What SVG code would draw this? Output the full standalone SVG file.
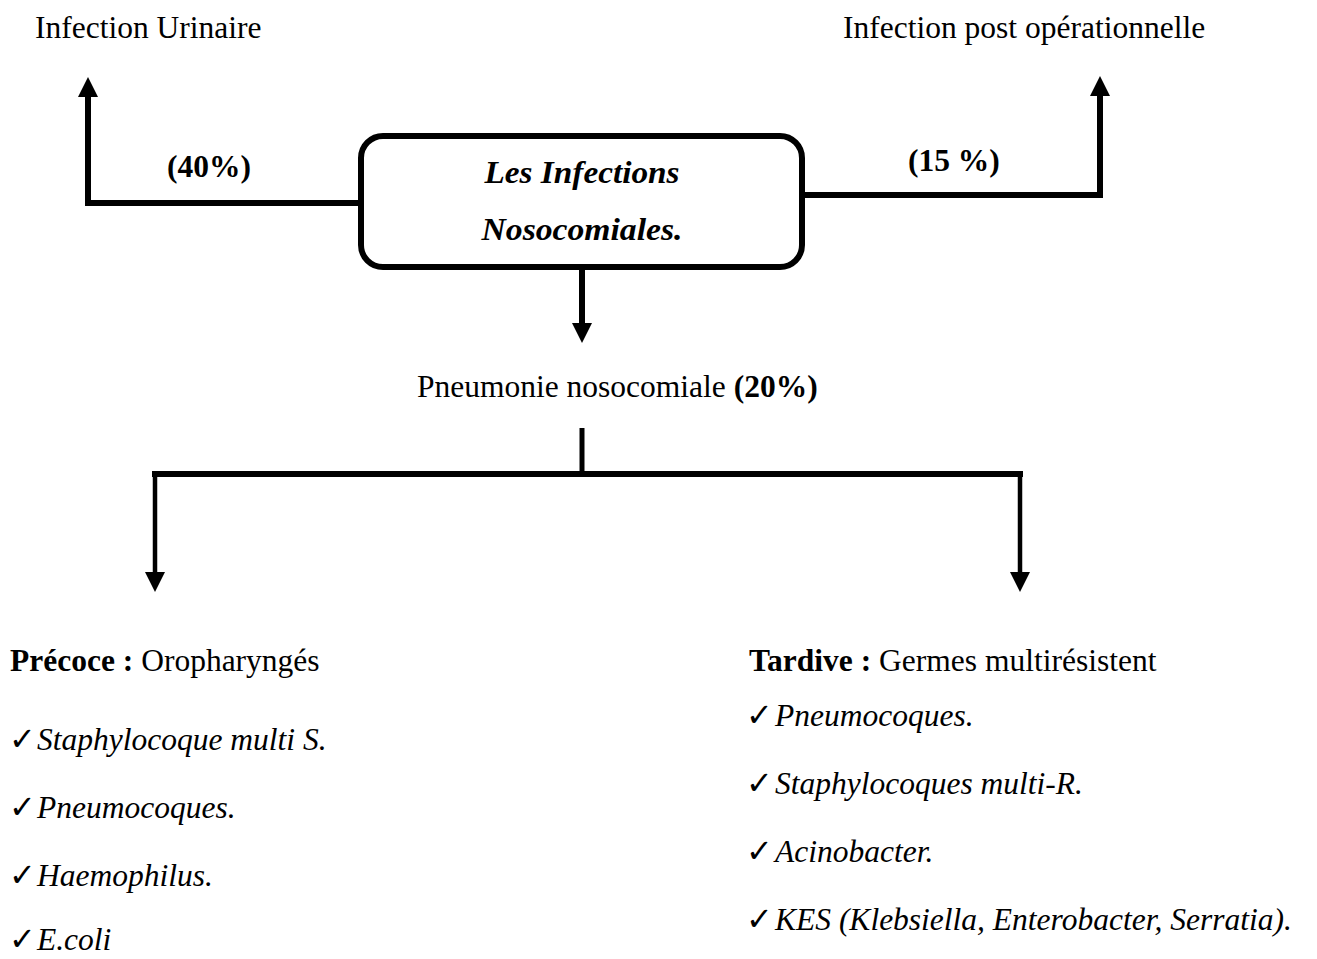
<svg xmlns="http://www.w3.org/2000/svg" width="1317" height="959" viewBox="0 0 1317 959">
<style>
.t{font-family:"Liberation Serif","Times New Roman",serif;font-size:31.5px;fill:#000}
.b{font-weight:bold}
.i{font-style:italic}
.box{font-family:"Liberation Serif","Times New Roman",serif;font-size:31px;font-weight:bold;font-style:italic;fill:#000}
.ck{font-family:"DejaVu Sans",sans-serif;font-size:32px;font-weight:bold;fill:#000}
.c{fill:none;stroke:#000;stroke-linejoin:miter;stroke-linecap:butt}
</style>
<defs>
<marker id="ah" markerUnits="userSpaceOnUse" markerWidth="20" markerHeight="20" refX="0" refY="10" orient="auto" overflow="visible">
<path d="M0,0 L20,10 L0,20 Z" fill="#000"/>
</marker>
</defs>
<rect width="1317" height="959" fill="#fff"/>
<g id="connectors">
<path class="c" stroke-width="6" d="M358,203 H88 V97" marker-end="url(#ah)"/>
<path class="c" stroke-width="6" d="M805,195 H1100 V96" marker-end="url(#ah)"/>
<path class="c" stroke-width="6" d="M582,270 V323" marker-end="url(#ah)"/>
<path class="c" stroke-width="5" d="M582,428 V474"/>
<path class="c" stroke-width="6" d="M152,474 H1023"/>
<path class="c" stroke-width="4.5" d="M155,471 V572" marker-end="url(#ah)"/>
<path class="c" stroke-width="4.5" d="M1020,471 V572" marker-end="url(#ah)"/>
</g>
<g id="node-main">
<rect x="361" y="136" width="441" height="131" rx="22" ry="22" fill="#fff" stroke="#000" stroke-width="6"/>
<text class="box" x="582" y="183" text-anchor="middle" textLength="195" lengthAdjust="spacingAndGlyphs">Les Infections</text>
<text class="box" x="582" y="240" text-anchor="middle" textLength="201" lengthAdjust="spacingAndGlyphs">Nosocomiales.</text>
</g>
<g id="node-urinaire"><text class="t" x="35" y="38">Infection Urinaire</text></g>
<g id="node-postop"><text class="t" x="843" y="38">Infection post opérationnelle</text></g>
<g id="label-40"><text class="t b" x="167" y="177">(40%)</text></g>
<g id="label-15"><text class="t b" x="908" y="171">(15 %)</text></g>
<g id="node-pneumonie"><text class="t" x="417" y="397">Pneumonie nosocomiale <tspan class="b">(20%)</tspan></text></g>
<g id="node-precoce">
<text class="t" x="10" y="671"><tspan class="b">Précoce :</tspan> Oropharyngés</text>
<text class="ck" x="9" y="750">✓</text><text class="t i" x="37" y="750">Staphylocoque multi S.</text>
<text class="ck" x="9" y="818">✓</text><text class="t i" x="37" y="818">Pneumocoques.</text>
<text class="ck" x="9" y="886">✓</text><text class="t i" x="37" y="886">Haemophilus.</text>
<text class="ck" x="9" y="950">✓</text><text class="t i" x="37" y="950">E.coli</text>
</g>
<g id="node-tardive">
<text class="t" x="749" y="671"><tspan class="b">Tardive :</tspan> Germes multirésistent</text>
<text class="ck" x="746" y="726">✓</text><text class="t i" x="775" y="726">Pneumocoques.</text>
<text class="ck" x="746" y="794">✓</text><text class="t i" x="775" y="794">Staphylocoques multi-R.</text>
<text class="ck" x="746" y="862">✓</text><text class="t i" x="775" y="862">Acinobacter.</text>
<text class="ck" x="746" y="930">✓</text><text class="t i" x="775" y="930">KES (Klebsiella, Enterobacter, Serratia).</text>
</g>
</svg>
